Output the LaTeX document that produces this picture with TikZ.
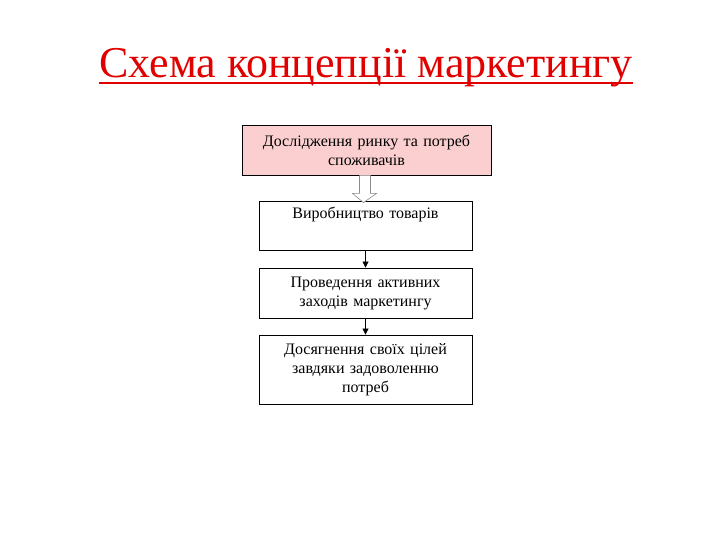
\documentclass[tikz,border=0pt]{standalone}
\usepackage{fontspec}
\setmainfont{Liberation Serif}
\usepackage{xcolor}
\usetikzlibrary{arrows.meta,calc}
\definecolor{titlered}{HTML}{E00000}
\definecolor{researchpink}{HTML}{FBCFCF}
\definecolor{framegray}{HTML}{8C8C8C}

\begin{document}
\begin{tikzpicture}[
  x=1bp,
  y=-1bp,
  every node/.style={font=\fontsize{16bp}{19bp}\selectfont, black},
  stage/.style={draw=black, line width=0.8pt, align=center, inner sep=0pt,
    text width=205bp, minimum width=213bp},
  flow/.style={black, line width=0.6pt, -{Triangle[length=6bp, width=6bp]}},
  hollow/.style={framegray, line width=0.6pt, fill=white}
]
  \useasboundingbox (0,0) rectangle (720,540);

  % ---- title ------------------------------------------------------------
  \node[font=\fontsize{44bp}{48bp}\selectfont, titlered, anchor=base,
    inner sep=0pt] (title) at (366,78) {Схема концепції маркетингу};
  \draw[titlered, line width=1.8pt] ($(title.base west)+(0,5)$)
    -- ($(title.base east)+(0,5)$);

  % ---- stages -----------------------------------------------------------
  \node[stage, fill=researchpink, text width=240bp, minimum width=249bp,
    minimum height=50bp] (research) at (366.5,150)
    {Дослідження ринку та потреб\\споживачів};
  \node[stage, minimum height=49bp] (production) at (365.5,225.5)
    {Виробництво товарів\\\strut};
  \node[stage, minimum height=50bp] (activity) at (365.5,293)
    {Проведення активних\\заходів маркетингу};
  \node[stage, minimum height=69bp] (goals) at (365.5,369.5)
    {Досягнення своїх цілей\\завдяки задоволенню\\потреб};

  % ---- hollow arrow into production -------------------------------------
  \draw[hollow] ($(research.south)+(-7,0)$) -- ($(research.south)+(-7,18)$)
    -- ($(research.south)+(-14,18)$) -- ($(production.north)+(-2,2)$)
    -- ($(research.south)+(10,18)$) -- ($(research.south)+(4,18)$)
    -- ($(research.south)+(4,0)$);

  % ---- plain arrows -----------------------------------------------------
  \draw[flow] (production.south) -- (activity.north);
  \draw[flow] (activity.south) -- (goals.north);
\end{tikzpicture}
\end{document}
